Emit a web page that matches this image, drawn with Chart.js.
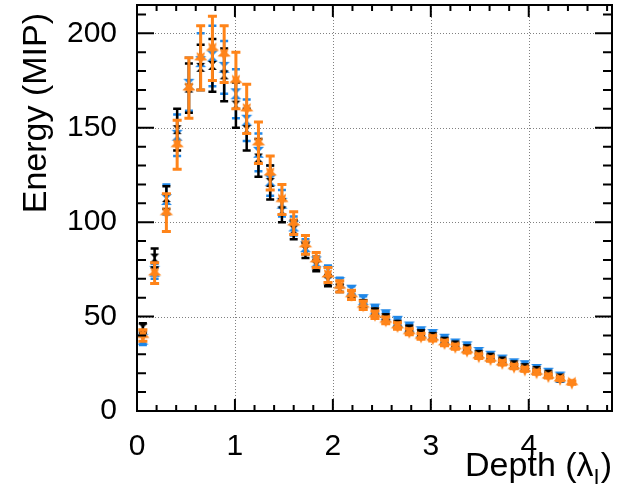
<!DOCTYPE html>
<html>
<head>
<meta charset="utf-8">
<script src="https://cdn.jsdelivr.net/npm/chart.js@4.4.0/dist/chart.umd.min.js"></script>
<style>
html, body { margin: 0; padding: 0; background: #fff; }
#wrap { width: 617px; height: 493px; }
</style>
</head>
<body>
<div id="wrap"><canvas id="perfil"></canvas></div>
<script>
// --- datos ---
const depth = [0.06, 0.18, 0.30, 0.41, 0.53, 0.65, 0.77, 0.89, 1.01, 1.12,
               1.24, 1.36, 1.48, 1.60, 1.72, 1.83, 1.95, 2.07, 2.19, 2.31,
               2.43, 2.54, 2.66, 2.78, 2.90, 3.02, 3.14, 3.25, 3.37, 3.49,
               3.61, 3.73, 3.85, 3.96, 4.08, 4.20, 4.32, 4.44];

const dataE   = [44, 81, 113, 149, 171, 182, 183, 178, 162, 149,
                 134, 121, 106, 96, 85, 77, 69, 65, 62, 57,
                 52.5, 49.5, 46, 43.5, 41, 39.5, 37, 35, 33, 30,
                 28.5, 26.5, 24.5, 23, 21.5, 19.5, 17.5];
const dataErr = [2.5, 5, 6, 11, 13, 12, 14, 14, 12, 11,
                 10, 9, 6, 5, 4, 3, 3, 2, 1.8, 1.7,
                 1.6, 1.5, 1.4, 1.4, 1.3, 1.3, 1.2, 1.2, 1.1, 1.1,
                 1.0, 1.0, 1.0, 0.9, 0.9, 0.9, 0.8];

const simAE   = [38, 74, 112, 146, 173, 185, 188, 182, 168, 154,
                 137, 122, 110, 98, 87, 79, 74, 68, 64, 59,
                 54, 51, 47.5, 44.5, 42, 40.5, 38, 35.5, 34, 31,
                 29, 27, 25, 24, 22, 20, 18];
const simAErr = [3, 4, 8, 11, 14, 15, 16, 14, 13, 11,
                 10, 8, 7, 5, 4, 3, 3, 2.5, 2, 1.8,
                 1.7, 1.6, 1.5, 1.4, 1.4, 1.3, 1.3, 1.2, 1.2, 1.1,
                 1.1, 1.0, 1.0, 1.0, 0.9, 0.9, 0.9];

const simBE   = [40, 73, 105, 141, 171, 187, 192, 189, 175, 160,
                 142, 126, 112, 99.5, 88, 80, 72, 66, 61.5, 56,
                 51, 48, 45, 42, 39.5, 38.5, 36, 34, 32, 29,
                 27.5, 25.5, 23.5, 22, 20.5, 18.5, 17, 15];
const simBErr = [3, 5.5, 10, 13, 16, 17, 17, 15, 15, 13,
                 11, 9, 8, 6, 5, 4, 4, 3, 2.5, 2.2,
                 2, 1.8, 1.7, 1.6, 1.5, 1.4, 1.4, 1.3, 1.3, 1.2,
                 1.2, 1.1, 1.1, 1.0, 1.0, 1.0, 0.9, 0.9];

const xTicks = [0, 1, 2, 3, 4];
const yTicks = [0, 50, 100, 150, 200];

const FUENTE = "'Liberation Sans', Arial, Helvetica, sans-serif";

// --- marcadores ---
function marcadorEstrella(color, r) {
    const c = document.createElement('canvas');
    const s = Math.ceil(2 * r + 4);
    c.width = s; c.height = s;
    const g = c.getContext('2d');
    g.translate(s / 2, s / 2);
    g.beginPath();
    for (let k = 0; k < 10; k++) {
        const ang = Math.PI / 2 + k * Math.PI / 5;
        const rr = k % 2 === 0 ? r : r * 0.47;
        const px = Math.cos(ang) * rr, py = Math.sin(ang) * rr;
        if (k === 0) g.moveTo(px, py); else g.lineTo(px, py);
    }
    g.closePath();
    g.fillStyle = color;
    g.fill();
    return c;
}

function marcadorReloj(color, a, b) {
    const c = document.createElement('canvas');
    c.width = 2 * a + 4; c.height = 2 * b + 4;
    const g = c.getContext('2d');
    g.translate(a + 2, b + 2);
    g.beginPath();
    g.moveTo(-a, -b); g.lineTo(a, -b); g.lineTo(0, 0);
    g.lineTo(a, b); g.lineTo(-a, b); g.lineTo(0, 0);
    g.closePath();
    g.fillStyle = color;
    g.fill();
    return c;
}

const NEGRO = '#000000';
const AZUL = '#1f87e8';
const NARANJA = '#ff8419';

function puntos(vals) {
    return vals.map((v, i) => ({ x: depth[i], y: v }));
}

// --- plugin: marco estilo ROOT, rejilla, barras de error y títulos ---
const marcoPlugin = {
    id: 'marco',
    beforeDatasetsDraw(chart) {
        const { ctx, chartArea: a, scales: { x, y } } = chart;
        ctx.save();
        ctx.strokeStyle = '#808080';
        ctx.lineWidth = 1;
        ctx.setLineDash([1, 2]);
        xTicks.forEach(v => {
            if (v === 0) return;
            const px = Math.round(x.getPixelForValue(v)) + 0.5;
            ctx.beginPath(); ctx.moveTo(px, a.top); ctx.lineTo(px, a.bottom); ctx.stroke();
        });
        yTicks.forEach(v => {
            if (v === 0) return;
            const py = Math.round(y.getPixelForValue(v)) + 0.5;
            ctx.beginPath(); ctx.moveTo(a.left, py); ctx.lineTo(a.right, py); ctx.stroke();
        });
        ctx.restore();
    },
    beforeDatasetDraw(chart, args) {
        const ds = chart.data.datasets[args.index];
        if (!ds.errores) return;
        const { ctx, scales: { x, y } } = chart;
        ctx.save();
        ctx.strokeStyle = ds.colorBarra;
        ctx.lineWidth = ds.anchoBarra;
        ds.data.forEach((p, i) => {
            const e = ds.errores[i];
            const px = x.getPixelForValue(p.x);
            const y1 = y.getPixelForValue(p.y + e);
            const y2 = y.getPixelForValue(p.y - e);
            const w = ds.tapa;
            ctx.beginPath();
            ctx.moveTo(px, y1); ctx.lineTo(px, y2);
            ctx.moveTo(px - w, y1); ctx.lineTo(px + w, y1);
            ctx.moveTo(px - w, y2); ctx.lineTo(px + w, y2);
            ctx.stroke();
        });
        ctx.restore();
    },
    afterDatasetsDraw(chart) {
        const { ctx, chartArea: a, scales: { x, y } } = chart;
        ctx.save();
        ctx.strokeStyle = '#000';
        ctx.lineWidth = 2;
        ctx.strokeRect(a.left, a.top, a.right - a.left, a.bottom - a.top);

        // marcas hacia dentro en los cuatro lados
        ctx.beginPath();
        for (let v = 0; v <= 4.81; v += 0.2) {
            const mayor = Math.abs(v - Math.round(v)) < 1e-6;
            const L = mayor ? 12 : 6;
            const px = x.getPixelForValue(v);
            ctx.moveTo(px, a.bottom); ctx.lineTo(px, a.bottom - L);
            ctx.moveTo(px, a.top); ctx.lineTo(px, a.top + L);
        }
        for (let v = 0; v <= 210; v += 10) {
            const mayor = v % 50 === 0;
            const L = mayor ? 17 : 9;
            const py = y.getPixelForValue(v);
            ctx.moveTo(a.left, py); ctx.lineTo(a.left + L, py);
            ctx.moveTo(a.right, py); ctx.lineTo(a.right - L, py);
        }
        ctx.stroke();

        // títulos de los ejes
        ctx.fillStyle = '#000';
        ctx.font = `34px ${FUENTE}`;
        ctx.textBaseline = 'middle';
        ctx.textAlign = 'right';
        ctx.save();
        ctx.translate(37, 13);
        ctx.rotate(-Math.PI / 2);
        ctx.fillText('Energy (MIP)', 0, 0);
        ctx.restore();

        ctx.textBaseline = 'alphabetic';
        ctx.textAlign = 'left';
        const base = 476;
        const parte1 = 'Depth (λ';
        const sub = 'I';
        const cierre = ')';
        ctx.font = `34px ${FUENTE}`;
        const w1 = ctx.measureText(parte1).width;
        const wc = ctx.measureText(cierre).width;
        ctx.font = `22px ${FUENTE}`;
        const ws = ctx.measureText(sub).width;
        const x0 = a.right - (w1 + ws + wc + 1);
        ctx.font = `34px ${FUENTE}`;
        ctx.fillText(parte1, x0, base);
        ctx.font = `22px ${FUENTE}`;
        ctx.fillText(sub, x0 + w1, base + 8);
        ctx.font = `34px ${FUENTE}`;
        ctx.fillText(cierre, x0 + w1 + ws + 1, base);
        ctx.restore();
    }
};

const ctxPerfil = document.getElementById('perfil');
new Chart(ctxPerfil, {
    type: 'scatter',
    data: {
        datasets: [
            {
                label: 'MC B',
                data: puntos(simBE),
                errores: simBErr,
                colorBarra: NARANJA, anchoBarra: 3, tapa: 4.5,
                pointStyle: marcadorEstrella(NARANJA, 7),
                order: 0
            },
            {
                label: 'Data',
                data: puntos(dataE),
                errores: dataErr,
                colorBarra: NEGRO, anchoBarra: 2.5, tapa: 4,
                pointStyle: marcadorReloj(NEGRO, 4.5, 4.5),
                order: 1
            },
            {
                label: 'MC A',
                data: puntos(simAE),
                errores: simAErr,
                colorBarra: AZUL, anchoBarra: 2.5, tapa: 4,
                pointStyle: marcadorReloj(AZUL, 5.5, 5.5),
                order: 2
            }
        ]
    },
    options: {
        responsive: true,
        maintainAspectRatio: false,
        animation: false,
        layout: { padding: { left: 0, top: 5, right: 5, bottom: 0 } },
        plugins: { legend: { display: false }, tooltip: { enabled: false } },
        scales: {
            x: {
                type: 'linear', min: 0, max: 4.85,
                grid: { display: false },
                border: { display: false },
                afterBuildTicks: s => { s.ticks = xTicks.map(v => ({ value: v })); },
                afterFit: s => { s.height = 82; s.paddingLeft = 0; s.paddingRight = 0; },
                ticks: {
                    padding: 10, color: '#000', maxRotation: 0,
                    font: { family: FUENTE, size: 30 },
                    callback: v => String(v)
                }
            },
            y: {
                type: 'linear', min: 0, max: 215,
                grid: { display: false },
                border: { display: false },
                afterBuildTicks: s => { s.ticks = yTicks.map(v => ({ value: v })); },
                afterFit: s => { s.width = 137; s.paddingTop = 0; s.paddingBottom = 0; },
                ticks: {
                    padding: 12, color: '#000',
                    font: { family: FUENTE, size: 30 },
                    callback: v => String(v)
                }
            }
        }
    },
    plugins: [marcoPlugin]
});
</script>
</body>
</html>
